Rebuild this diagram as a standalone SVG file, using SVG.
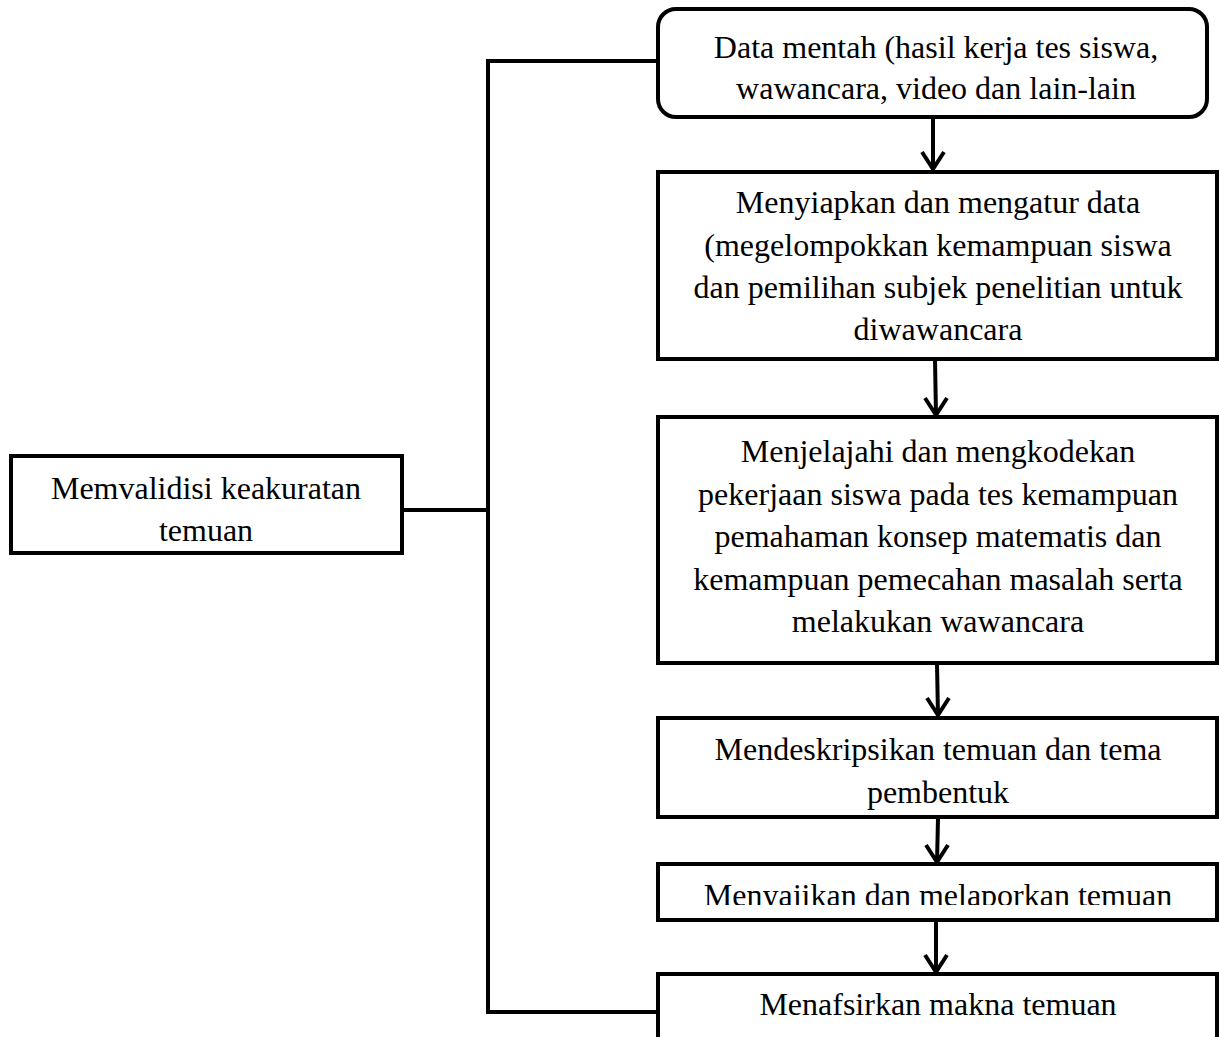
<svg xmlns="http://www.w3.org/2000/svg" width="1219" height="1037" viewBox="0 0 1219 1037">
<style>
.box{fill:#fff;stroke:#000;stroke-width:4}
.t{font-family:"Liberation Serif","Times New Roman",serif;font-size:32px;fill:#000;text-anchor:middle}
.c{fill:none;stroke:#000;stroke-width:4}
.ah{fill:none;stroke:#000;stroke-width:4;stroke-linejoin:miter}
</style>
<defs>
<clipPath id="clip5"><rect x="659" y="866" width="556" height="39"/></clipPath>
</defs>
<rect width="1219" height="1037" fill="#fff"/>
<g id="connectors">
<polyline class="c" points="657,61 488,61 488,1012 657,1012"/>
<line class="c" x1="402" y1="510" x2="488" y2="510"/>
<line class="c" x1="933" y1="117" x2="933" y2="170"/>
<polyline class="ah" points="922,152 933,169 944,152"/>
<line class="c" x1="935" y1="359" x2="936" y2="416"/>
<polyline class="ah" points="925,398 936,415 947,398"/>
<line class="c" x1="937" y1="664" x2="938" y2="716"/>
<polyline class="ah" points="927,698 938,715 949,698"/>
<line class="c" x1="938" y1="818" x2="937" y2="863"/>
<polyline class="ah" points="926,845 937,862 948,845"/>
<line class="c" x1="936" y1="920" x2="936" y2="973"/>
<polyline class="ah" points="925,955 936,972 947,955"/>
</g>
<g id="n1">
<rect class="box" x="658" y="9" width="549" height="108" rx="18"/>
<text class="t" x="936" y="58">Data mentah (hasil kerja tes siswa,</text>
<text class="t" x="936" y="99">wawancara, video dan lain-lain</text>
</g>
<g id="n2">
<rect class="box" x="658" y="172" width="559" height="187"/>
<text class="t" x="938" y="213">Menyiapkan dan mengatur data</text>
<text class="t" x="938" y="256">(megelompokkan kemampuan siswa</text>
<text class="t" x="938" y="298">dan pemilihan subjek penelitian untuk</text>
<text class="t" x="938" y="340">diwawancara</text>
</g>
<g id="n3">
<rect class="box" x="658" y="417" width="559" height="246"/>
<text class="t" x="938" y="462">Menjelajahi dan mengkodekan</text>
<text class="t" x="938" y="505">pekerjaan siswa pada tes kemampuan</text>
<text class="t" x="938" y="547">pemahaman konsep matematis dan</text>
<text class="t" x="938" y="590">kemampuan pemecahan masalah serta</text>
<text class="t" x="938" y="632">melakukan wawancara</text>
</g>
<g id="n4">
<rect class="box" x="658" y="718" width="559" height="99"/>
<text class="t" x="938" y="760">Mendeskripsikan temuan dan tema</text>
<text class="t" x="938" y="803">pembentuk</text>
</g>
<g id="n5">
<rect class="box" x="658" y="864" width="559" height="56"/>
<text class="t" x="938" y="906" clip-path="url(#clip5)">Menyajikan dan melaporkan temuan</text>
</g>
<g id="n6">
<rect class="box" x="658" y="974" width="559" height="80"/>
<text class="t" x="938" y="1015">Menafsirkan makna temuan</text>
</g>
<g id="n7">
<rect class="box" x="11" y="456" width="391" height="97"/>
<text class="t" x="206" y="499">Memvalidisi keakuratan</text>
<text class="t" x="206" y="541">temuan</text>
</g>
</svg>
